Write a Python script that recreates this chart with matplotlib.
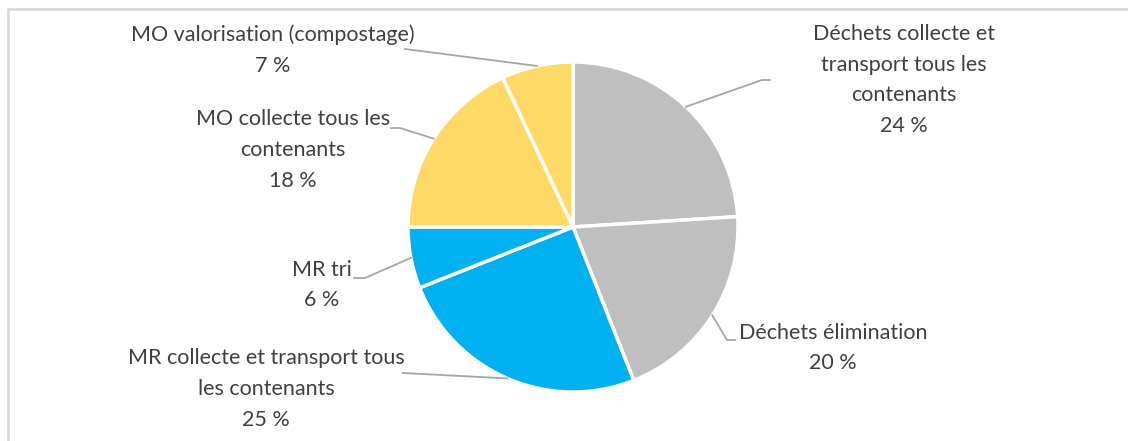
import matplotlib
matplotlib.use('Agg')
import matplotlib.pyplot as plt
import numpy as np

# Répartition des coûts de gestion des matières résiduelles
labels = ['Déchets collecte et\ntransport tous les\ncontenants',
          'Déchets élimination',
          'MR collecte et transport tous\nles contenants',
          'MR tri',
          'MO collecte tous les\ncontenants',
          'MO valorisation (compostage)']
parts = [24, 20, 25, 6, 18, 7]
colors = ['#BFBFBF', '#BFBFBF', '#00B0F0', '#00B0F0', '#FFD966', '#FFD966']

W, H = 1128, 441
plt.rcParams['font.family'] = ['Lato', 'DejaVu Sans']

fig = plt.figure(figsize=(W / 100, H / 100), dpi=100)
ax = fig.add_axes([0, 0, 1, 1])

cx, cy, r = 573, H - 227, 165
wedges, _ = ax.pie(parts, colors=colors, startangle=90, counterclock=False,
                   center=(cx, cy), radius=r, frame=True,
                   wedgeprops=dict(edgecolor='white', linewidth=2.5))

ax.set_xlim(0, W)
ax.set_ylim(0, H)
ax.set_aspect('equal')
ax.axis('off')

# cadre gris clair (haut et gauche)
ax.plot([8, 8, W + 5], [-5, H - 9, H - 9], color='#D9D9D9', lw=2, clip_on=False)

# position des étiquettes (x, y en pixels depuis le haut) et coude du trait de rappel
lab_pos = [(904, 80), (833, 348), (266, 389), (322, 285), (293, 150), (273, 50)]
elbows = [[(762, 80), (770, 80)],
          [(727, 340), (735, 340)],
          [(403, 373)],
          [(365, 278), (354, 278)],
          [(400, 128), (391, 128)],
          [(405, 49)]]

for w, lab, p, (x, y), pts in zip(wedges, labels, parts, lab_pos, elbows):
    mid = np.deg2rad((w.theta1 + w.theta2) / 2)
    x0 = cx + r * np.cos(mid)
    y0 = cy + r * np.sin(mid)
    xs = [x0] + [q[0] for q in pts]
    ys = [y0] + [H - q[1] for q in pts]
    ax.plot(xs, ys, color='#A6A6A6', lw=1.3)
    ax.text(x, H - y, f'{lab}\n{p} %', ha='center', va='center',
            fontsize=15.5, color='#404040', linespacing=1.68)

fig.savefig('out.png', dpi=100)
